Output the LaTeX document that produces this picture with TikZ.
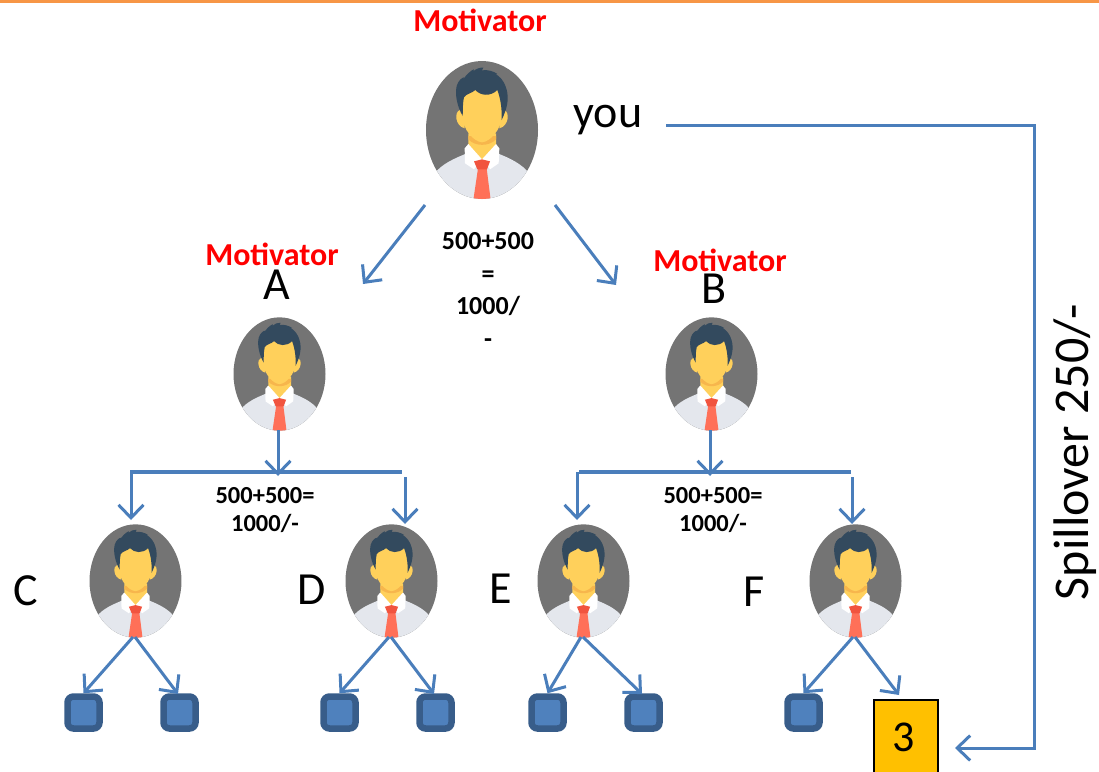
\documentclass[tikz,border=0pt]{standalone}
\usepackage{fontspec}
\setmainfont{Carlito}
\usetikzlibrary{arrows.meta,shapes.geometric}
\definecolor{linkblue}{HTML}{4A7EBB}
\definecolor{sqfill}{HTML}{4F81BD}
\definecolor{sqedge}{HTML}{385D8A}
\definecolor{topline}{HTML}{F79646}
\definecolor{bggray}{HTML}{747474}
\definecolor{shirtc}{HTML}{E4E7ED}
\definecolor{facec}{HTML}{FFD05B}
\definecolor{shadec}{HTML}{F7B64C}
\definecolor{hairc}{HTML}{334A5E}
\definecolor{tiec}{HTML}{FF7058}
\definecolor{knotc}{HTML}{F1543F}
\definecolor{boxc}{HTML}{FFC000}
\tikzset{
  conn/.style={draw=linkblue,line width=3pt},
  bus/.style={draw=linkblue,line width=3.6pt},
  arr/.style={conn,-{Straight Barb[length=13pt,width=25pt,line width=3pt]}},
  persona/.style={ellipse,minimum width=2*#1*56pt,minimum height=2*#1*69pt,inner sep=0pt,draw=none},
  sq/.style={rectangle,rounded corners=6pt,draw=sqedge,fill=sqfill,line width=6.5pt,minimum size=32pt,inner sep=0pt},
  moti/.style={text=red,font=\bfseries\fontsize{32}{34}\selectfont,inner sep=0pt},
  lett/.style={font=\fontsize{46}{50}\selectfont,inner sep=0pt},
  amt/.style={font=\bfseries\fontsize{26}{32.5}\selectfont,align=center,inner sep=0pt},
  amts/.style={font=\bfseries\fontsize{24.5}{28}\selectfont,align=center,inner sep=0pt},
}
\newcommand{\personicon}[4]{% name, x, y, scale
  \node[persona=#4] (#1) at (#2,#3) {};
  \begin{scope}[shift={(#2,#3)},x=#4*0.33333pt,y=-#4*0.33333pt]
  \begin{scope}[shift={(-246,-390)}]
    \begin{scope}
      \clip (246,390) ellipse [x radius=168,y radius=207];
      \fill[bggray] (60,170) rectangle (430,610);
      \fill[shirtc] (100,525) .. controls (125,490) and (165,475) .. (205,458)
        -- (288,458) .. controls (330,475) and (365,490) .. (392,525) -- (392,610) -- (100,610) -- cycle;
      \fill[tiec] (234,505) -- (260,505) -- (272,600) -- (220,600) -- cycle;
    \end{scope}
    \fill[facec] (205,400) -- (288,400) -- (288,462) -- (246,482) -- (205,462) -- cycle;
    \fill[shadec] (205,418) .. controls (225,440) and (268,440) .. (288,418) -- (288,408) -- (205,408) -- cycle;
    \fill[white] (205,432) -- (246,478) -- (222,508) -- (195,490) -- (194,445) -- cycle;
    \fill[white] (288,432) -- (246,478) -- (270,508) -- (296,490) -- (298,445) -- cycle;
    \fill[knotc] (222,484) -- (246,478) -- (270,484) -- (261,508) -- (232,508) -- cycle;
    \fill[facec] (180,330) .. controls (162,335) and (165,378) .. (194,385) -- (194,330) -- cycle;
    \fill[facec] (312,330) .. controls (330,335) and (327,378) .. (298,385) -- (298,330) -- cycle;
    \fill[facec] (186,270) -- (306,270) -- (306,345) .. controls (304,390) and (270,425) .. (246,427)
      .. controls (222,425) and (188,390) .. (186,345) -- cycle;
    \fill[hairc] (188,348) .. controls (172,320) and (164,285) .. (170,258)
      .. controls (175,240) and (188,232) .. (192,232)
      -- (188,240) .. controls (200,222) and (215,210) .. (222,208)
      -- (220,214) .. controls (228,206) and (240,202) .. (250,203)
      -- (246,211) .. controls (262,208) and (282,214) .. (292,222)
      -- (286,222) .. controls (312,235) and (325,270) .. (323,300)
      .. controls (321,325) and (312,345) .. (305,360)
      .. controls (306,330) and (303,300) .. (292,270)
      .. controls (272,290) and (242,288) .. (226,270)
      .. controls (216,280) and (200,280) .. (192,292)
      .. controls (187,315) and (189,335) .. (188,348) -- cycle;
  \end{scope}
  \end{scope}
}
\begin{document}
\begin{tikzpicture}[x=1pt,y=-1pt]
\useasboundingbox (0,0) rectangle (1099,771);
\clip (0,0) rectangle (1099,771);
\fill[topline] (0,0) rectangle (1099,2.5);

\personicon{you}{482}{130}{1}
\personicon{pa}{279.5}{374}{0.8214}
\personicon{pb}{711.5}{374}{0.8214}
\personicon{pc}{135.5}{581}{0.8214}
\personicon{pd}{391.5}{581}{0.8214}
\personicon{pe}{583.5}{581}{0.8214}
\personicon{pf}{855.5}{581}{0.8214}

\node[moti] (m0) at (480,20) {Motivator};
\node[moti] (m1) at (272,254) {Motivator};
\node[moti] (m2) at (720,260) {Motivator};

\node[lett] (ty) at (608,120) {you};
\node[lett] (ta) at (277,285) {A};
\node[lett] (tb) at (714,289) {B};
\node[lett] (tc) at (26,591) {C};
\node[lett] (td) at (312,590) {D};
\node[lett] (te) at (501,589) {E};
\node[lett] (tf) at (754,592) {F};

\node[amt] (t0) at (488,290) {500+500\\=\\1000/\\-};
\node[amts] (t1) at (265,510) {500+500=\\1000/-};
\node[amts] (t2) at (713,510) {500+500=\\1000/-};

\node[sq] (s1) at (83.5,712.5) {};
\node[sq] (s2) at (179.5,712.5) {};
\node[sq] (s3) at (339.5,712.5) {};
\node[sq] (s4) at (435.5,712.5) {};
\node[sq] (s5) at (547.5,712.5) {};
\node[sq] (s6) at (643.5,712.5) {};
\node[sq] (s7) at (803.5,712.5) {};
\node[draw=black,line width=2.5pt,fill=boxc,minimum width=64pt,minimum height=78pt,inner sep=0pt] (box) at (906,739) {};
\node[font=\fontsize{44}{46}\selectfont,inner sep=0pt] (boxt) at (904,737) {3};

\node[rotate=90,font=\fontsize{50}{54}\selectfont,inner sep=0pt] (spill) at (1075,452) {Spillover 250/-};

% free ends
\coordinate (r1) at (425,205); \coordinate (r1e) at (363,284);
\coordinate (r2) at (555,205); \coordinate (r2e) at (616,285);
\coordinate (al) at (130,472); \coordinate (ar) at (402,472);
\coordinate (bl) at (579,472); \coordinate (br) at (851,472);
\coordinate (cst) at (131,472); \coordinate (cin) at (131,520);
\coordinate (dst) at (405,477); \coordinate (din) at (405,524);
\coordinate (est) at (577,472); \coordinate (ein) at (577,520);
\coordinate (fst) at (852,477); \coordinate (fin) at (852,524);
\coordinate (ast) at (278,430); \coordinate (bst) at (710,430);
\coordinate (ae) at (278,476); \coordinate (be) at (710,476);
\coordinate (cdn) at (133,637); \coordinate (cdm) at (135,637); \coordinate (cde) at (178,694);
\coordinate (ddn) at (389,637); \coordinate (ddm) at (391,637); \coordinate (dde) at (434,694);
\coordinate (edn) at (581,637); \coordinate (edm) at (583,637); \coordinate (ede) at (642,694);
\coordinate (fdn) at (853,637); \coordinate (fdm) at (855,637);
\coordinate (boxin) at (899,695);
\coordinate (sp0) at (666,125); \coordinate (sp1) at (1034,125); \coordinate (sp2) at (1034,748); \coordinate (sp3) at (955,748);

\draw[arr] (r1) -- (r1e);
\draw[arr] (r2) -- (r2e);
\draw[arr] (ast) -- (ae);
\draw[arr] (bst) -- (be);
\draw[bus] (al) -- (ar);
\draw[bus] (bl) -- (br);
\draw[arr] (cst) -- (cin);
\draw[arr] (dst) -- (din);
\draw[arr] (est) -- (ein);
\draw[arr] (fst) -- (fin);
\draw[arr] (cdn) -- (s1.north);
\draw[arr] (cdm) -- (cde);
\draw[arr] (ddn) -- (s3.north);
\draw[arr] (ddm) -- (dde);
\draw[arr] (edn) -- (s5.north);
\draw[arr] (edm) -- (ede);
\draw[arr] (fdn) -- (s7.north);
\draw[arr] (fdm) -- (boxin);
\draw[arr] (sp0) -- (sp1) -- (sp2) -- (sp3);
\end{tikzpicture}
\end{document}
